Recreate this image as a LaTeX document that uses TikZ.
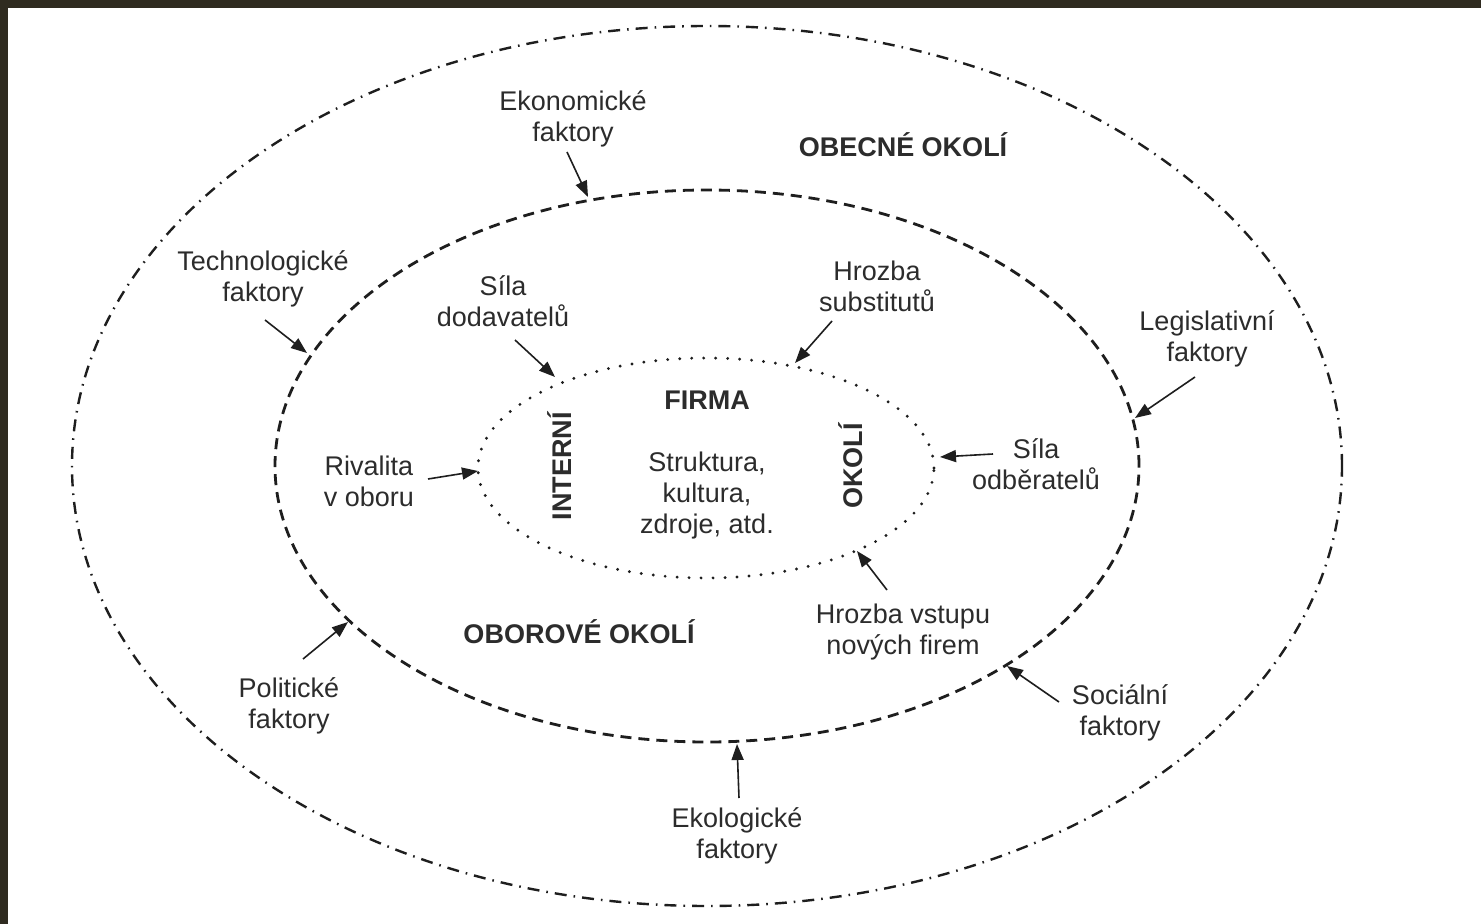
\documentclass[tikz,border=0pt]{standalone}
\usepackage{fontspec}
\setmainfont{Liberation Sans}
\usetikzlibrary{arrows.meta,shapes.geometric}
\definecolor{framebg}{HTML}{2F2B20}
\definecolor{inkline}{HTML}{1E1E1E}
\definecolor{inktext}{HTML}{2C2C2C}
\tikzset{
  >={Triangle[length=8pt,width=6pt]},
  lbl/.style={align=center,inner sep=0pt,text=inktext,
    font=\fontsize{13.5}{15.5}\selectfont},
  lblbold/.style={lbl,font=\fontsize{13.5}{15.5}\selectfont\bfseries},
  ring/.style={ellipse,draw=inkline,inner sep=0pt,outer sep=0pt,line width=1.3pt},
  outring/.style={ring,line width=1.2pt,dash pattern=on 6pt off 3.5pt on 0.8pt off 3.5pt},
  midring/.style={ring,line width=1.4pt,dash pattern=on 5.5pt off 3.5pt},
  inring/.style={ring,line cap=round,line width=1.6pt,dash pattern=on 0pt off 6pt},
  infl/.style={->,line width=0.8pt,draw=inkline},
}

\begin{document}
\begin{tikzpicture}[x=0.5pt,y=-0.5pt]
  % frame: dark edge on top and left, white sheet
  \fill[framebg] (0,0) rectangle (1481,924);
  \fill[white] (8,8) rectangle (1481,924);
  \useasboundingbox (0,0) rectangle (1481,924);

  % --- the three rings ---
  \node[outring,minimum width=635pt,minimum height=440pt] (obecne) at (707,466) {};
  \node[midring,minimum width=432pt,minimum height=276pt] (oborove) at (707,466) {};
  \node[inring,minimum width=228pt,minimum height=110pt] (firma) at (706,468) {};

  % --- ring titles ---
  \node[lblbold] (tobecne) at (903,145) {OBECNÉ OKOLÍ};
  \node[lblbold] (toborove) at (579,632) {OBOROVÉ OKOLÍ};
  \node[lblbold] (tfirma) at (707,400) {FIRMA};
  \node[lblbold,rotate=90] (tinterni) at (560,466) {INTERNÍ};
  \node[lblbold,rotate=90] (tokoli) at (851,466) {OKOLÍ};
  \node[lbl] (tobsah) at (707,496) {Struktura,\\kultura,\\zdroje, atd.};

  % --- general environment factors ---
  \node[lbl] (eko) at (573,119) {Ekonomické\\faktory};
  \node[lbl] (tech) at (263,279) {Technologické\\faktory};
  \node[lbl] (leg) at (1207,339) {Legislativní\\faktory};
  \node[lbl] (pol) at (289,706) {Politické\\faktory};
  \node[lbl] (soc) at (1120,713) {Sociální\\faktory};
  \node[lbl] (ekol) at (737,836) {Ekologické\\faktory};

  % --- industry forces ---
  \node[lbl] (dod) at (503,301) {Síla\\dodavatelů};
  \node[lbl] (sub) at (877,286) {Hrozba\\substitutů};
  \node[lbl] (riv) at (369,481) {Rivalita\\v oboru};
  \node[lbl] (odb) at (1036,464) {Síla\\odběratelů};
  \node[lbl] (vst) at (903,632) {Hrozba vstupu\\nových firem};

  % arrow ends
  \coordinate (eko-a) at (567,152);  \coordinate (eko-b) at (588,197);
  \coordinate (tech-a) at (265,320); \coordinate (tech-b) at (307,353);
  \coordinate (leg-a) at (1195,377); \coordinate (leg-b) at (1135,418);
  \coordinate (pol-a) at (303,659);  \coordinate (pol-b) at (348,622);
  \coordinate (soc-a) at (1059,702); \coordinate (soc-b) at (1007,666);
  \coordinate (ekol-a) at (739,798); \coordinate (ekol-b) at (737,744);
  \coordinate (dod-a) at (515,340);  \coordinate (dod-b) at (555,377);
  \coordinate (sub-a) at (832,321);  \coordinate (sub-b) at (795,363);
  \coordinate (riv-a) at (428,479);  \coordinate (riv-b) at (478,471);
  \coordinate (odb-a) at (993,454);  \coordinate (odb-b) at (940,457);
  \coordinate (vst-a) at (887,590);  \coordinate (vst-b) at (857,551);

  \draw[infl] (eko-a) -- (eko-b);
  \draw[infl] (tech-a) -- (tech-b);
  \draw[infl] (leg-a) -- (leg-b);
  \draw[infl] (pol-a) -- (pol-b);
  \draw[infl] (soc-a) -- (soc-b);
  \draw[infl] (ekol-a) -- (ekol-b);
  \draw[infl] (dod-a) -- (dod-b);
  \draw[infl] (sub-a) -- (sub-b);
  \draw[infl] (riv-a) -- (riv-b);
  \draw[infl] (odb-a) -- (odb-b);
  \draw[infl] (vst-a) -- (vst-b);
\end{tikzpicture}
\end{document}
